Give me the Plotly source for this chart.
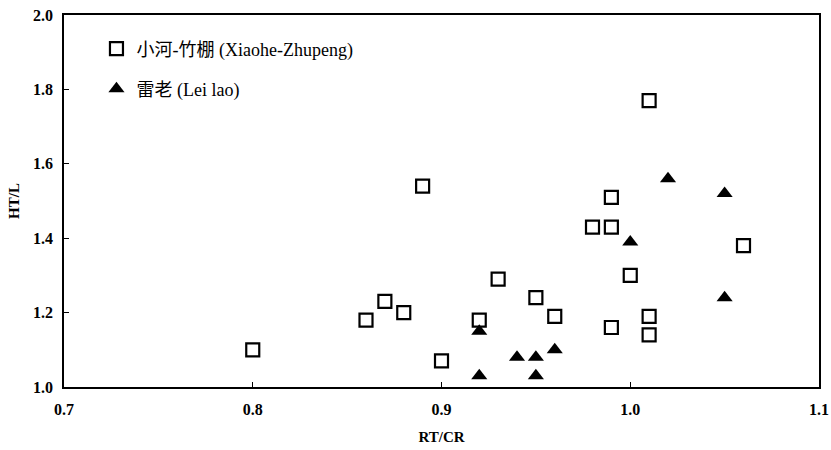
import plotly.graph_objects as go

# Xiaohe-Zhupeng (open squares)
xz_rt_cr = [0.80, 0.86, 0.87, 0.88, 0.89, 0.90, 0.92, 0.93, 0.95, 0.96,
            0.98, 0.99, 0.99, 0.99, 1.00, 1.01, 1.01, 1.01, 1.06]
xz_ht_l = [1.10, 1.18, 1.23, 1.20, 1.54, 1.07, 1.18, 1.29, 1.24, 1.19,
           1.43, 1.51, 1.43, 1.16, 1.30, 1.77, 1.19, 1.14, 1.38]

# Lei lao (filled triangles)
ll_rt_cr = [0.92, 0.92, 0.94, 0.95, 0.95, 0.96, 1.00, 1.02, 1.05, 1.05]
ll_ht_l = [1.03, 1.15, 1.08, 1.08, 1.03, 1.10, 1.39, 1.56, 1.52, 1.24]

x_ticks = [0.7, 0.8, 0.9, 1.0, 1.1]
y_ticks = [1.0, 1.2, 1.4, 1.6, 1.8, 2.0]

name_xz = "小河-竹棚 (Xiaohe-Zhupeng)"
name_ll = "雷老 (Lei lao)"

serif = "Liberation Serif, Times New Roman, Noto Sans CJK SC, serif"

fig = go.Figure()
fig.add_trace(go.Scatter(
    x=xz_rt_cr, y=xz_ht_l, mode="markers", name=name_xz, legend="legend",
    marker=dict(symbol="square-open", size=13, color="black",
                line=dict(width=2.2, color="black")),
))
fig.add_trace(go.Scatter(
    x=ll_rt_cr, y=ll_ht_l, mode="markers", name=name_ll, legend="legend2",
    marker=dict(symbol="triangle-up", size=14, color="black"),
))

legend_common = dict(
    xanchor="left", yanchor="middle", bgcolor="rgba(0,0,0,0)",
    font=dict(family=serif, size=18, color="black"),
    borderwidth=0,
)

tickfont = dict(family=serif, size=16, color="black", weight=700)

fig.update_layout(
    width=831, height=450,
    margin=dict(l=64, r=12, t=15, b=63, autoexpand=False),
    plot_bgcolor="white", paper_bgcolor="white",
    showlegend=True,
    legend=dict(x=0.043, y=0.909, **legend_common),
    legend2=dict(x=0.043, y=0.801, **legend_common),
    xaxis=dict(
        range=[0.7, 1.1], tickvals=x_ticks, ticktext=[f"<b>{v:.1f}</b>" for v in x_ticks],
        ticks="inside", ticklen=5, tickwidth=1, tickcolor="black",
        ticklabelstandoff=7,
        showline=True, linecolor="black", linewidth=1.5, mirror=True,
        showgrid=False, zeroline=False,
        tickfont=tickfont,
        title=dict(text="<b>RT/CR</b>", font=dict(family=serif, size=15, color="black", weight=700), standoff=15),
    ),
    yaxis=dict(
        range=[1.0, 2.0], tickvals=y_ticks, ticktext=[f"<b>{v:.1f}</b>" for v in y_ticks],
        ticks="inside", ticklen=5, tickwidth=1, tickcolor="black",
        ticklabelstandoff=6,
        showline=True, linecolor="black", linewidth=1.5, mirror=True,
        showgrid=False, zeroline=False,
        tickfont=tickfont,
        title=dict(text="<b>HT/L</b>", font=dict(family=serif, size=15, color="black", weight=700), standoff=10),
    ),
)

fig.write_html("out.html", config={"displayModeBar": False},
               post_script="document.body.style.margin='0';")
